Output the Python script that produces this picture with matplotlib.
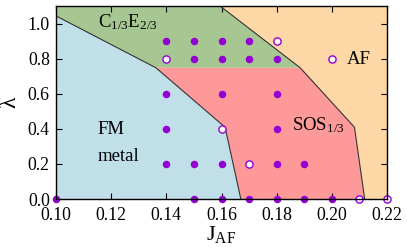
import matplotlib
matplotlib.use("Agg")
import matplotlib.pyplot as plt

plt.rcParams['font.family'] = ['Liberation Serif', 'DejaVu Serif']
plt.rcParams['mathtext.fontset'] = 'custom'
plt.rcParams['mathtext.rm'] = 'Liberation Serif'
plt.rcParams['mathtext.it'] = 'Liberation Serif:italic'

# Phase region boundaries (J_AF, lambda)
blue_x = [0.10, 0.10, 0.1362, 0.1613, 0.167]
blue_y = [0.0, 1.046, 0.75, 0.41, 0.0]
green_x = [0.10, 0.10, 0.1597, 0.1885, 0.1362]
green_y = [1.046, 1.1, 1.1, 0.75, 0.75]
red_x = [0.1362, 0.1885, 0.2082, 0.2119, 0.167, 0.1613]
red_y = [0.75, 0.75, 0.41, 0.0, 0.0, 0.41]
orange_x = [0.1597, 0.22, 0.22, 0.2119, 0.2082, 0.1885]
orange_y = [1.1, 1.1, 0.0, 0.0, 0.41, 0.75]

# Boundary lines
line1_x = [0.10, 0.1362, 0.1613, 0.167]
line1_y = [1.046, 0.75, 0.41, 0.0]
line2_x = [0.1597, 0.1885, 0.2082, 0.2119]
line2_y = [1.1, 0.75, 0.41, 0.0]

# Data points
filled_x = [0.14, 0.15, 0.16, 0.17,
            0.15, 0.16, 0.17, 0.18,
            0.14, 0.16, 0.18,
            0.14, 0.18,
            0.14, 0.15, 0.16, 0.18, 0.19,
            0.10, 0.15, 0.16, 0.17, 0.18, 0.19, 0.20]
filled_y = [0.9, 0.9, 0.9, 0.9,
            0.8, 0.8, 0.8, 0.8,
            0.6, 0.6, 0.6,
            0.4, 0.4,
            0.2, 0.2, 0.2, 0.2, 0.2,
            0.0, 0.0, 0.0, 0.0, 0.0, 0.0, 0.0]
open_x = [0.18, 0.14, 0.20, 0.16, 0.17, 0.21, 0.22]
open_y = [0.9, 0.8, 0.8, 0.4, 0.2, 0.0, 0.0]

xticks = [0.10, 0.12, 0.14, 0.16, 0.18, 0.20, 0.22]
yticks = [0.0, 0.2, 0.4, 0.6, 0.8, 1.0]

c_blue = '#c1dfe9'
c_green = '#a6c791'
c_red = '#fe999a'
c_orange = '#fed7a6'
c_purple = '#9400d3'

fig = plt.figure(figsize=(4.07, 2.49), dpi=100)
ax = fig.add_axes([0.1376, 0.2008, 0.8133, 0.7732])

ax.fill(blue_x, blue_y, color=c_blue, lw=0, zorder=1)
ax.fill(green_x, green_y, color=c_green, lw=0, zorder=1)
ax.fill(red_x, red_y, color=c_red, lw=0, zorder=1)
ax.fill(orange_x, orange_y, color=c_orange, lw=0, zorder=1)
ax.plot(line1_x, line1_y, color='#333333', lw=0.8, zorder=2)
ax.plot(line2_x, line2_y, color='#333333', lw=0.8, zorder=2)

ax.plot(filled_x, filled_y, 'o', color=c_purple, ms=4.4, mec=c_purple,
        ls='none', zorder=4, clip_on=False)
ax.plot(open_x, open_y, 'o', mfc='white', mec=c_purple, mew=1.0, ms=5.2,
        ls='none', zorder=4, clip_on=False)

fs = 13.5
ax.text(0.1151, 0.98, r'C$_{1/3}$E$_{2/3}$', fontsize=fs, ha='left', va='baseline', zorder=5)
ax.text(0.2055, 0.77, 'AF', fontsize=fs, ha='left', va='baseline', zorder=5)
ax.text(0.1151, 0.37, 'FM', fontsize=fs, ha='left', va='baseline', zorder=5)
ax.text(0.1151, 0.219, 'metal', fontsize=fs, ha='left', va='baseline', zorder=5)
ax.text(0.1855, 0.394, r'SOS$_{1/3}$', fontsize=fs, ha='left', va='baseline', zorder=5)

ax.set_xlim(0.10, 0.22)
ax.set_ylim(0.0, 1.1)
ax.set_xticks(xticks)
ax.set_xticklabels(['%.2f' % v for v in xticks])
ax.set_yticks(yticks)
ax.set_yticklabels(['%.1f' % v for v in yticks])
ax.tick_params(direction='in', top=True, right=True, length=4, width=0.8,
               labelsize=12.8, pad=4.5)
ax.tick_params(axis='x', pad=6)
for s in ax.spines.values():
    s.set_linewidth(1.0)
    s.set_zorder(6)

ax.set_xlabel(r'J$_{\mathrm{AF}}$', fontsize=16, labelpad=0)
ax.set_ylabel('λ', fontsize=17, labelpad=5)

fig.savefig('out.png', dpi=100)
